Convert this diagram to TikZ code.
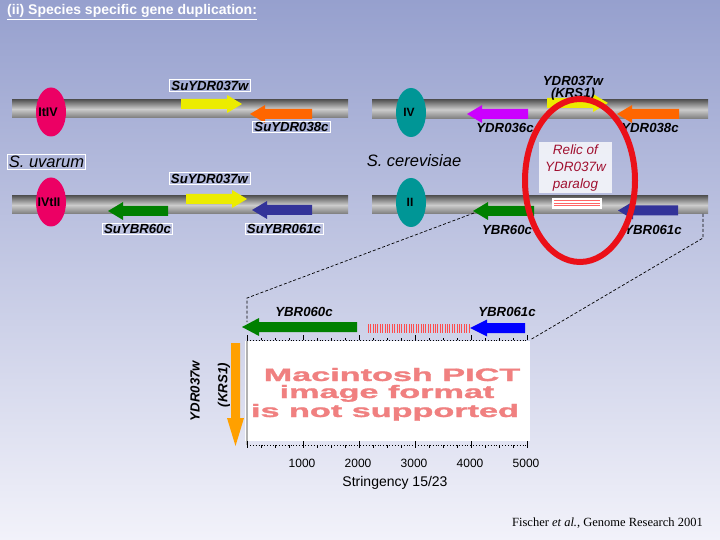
\documentclass[tikz,border=0pt]{standalone}
\usepackage{fontspec}
\usetikzlibrary{shapes.geometric}
\setmainfont{Liberation Sans}
\newfontfamily\timesf{Liberation Serif}
\newfontfamily\pictfont[FakeBold=1.2]{Liberation Sans Bold}
\definecolor{bgtop}{RGB}{150,160,206}
\definecolor{bgbot}{RGB}{242,242,250}
\definecolor{cmag}{RGB}{236,0,100}
\definecolor{cteal}{RGB}{0,150,150}
\definecolor{gyel}{RGB}{236,236,0}
\definecolor{gora}{RGB}{255,102,0}
\definecolor{ggrn}{RGB}{0,128,0}
\definecolor{gnav}{RGB}{51,51,153}
\definecolor{gvio}{RGB}{204,0,255}
\definecolor{gblu}{RGB}{0,0,255}
\definecolor{gorv}{RGB}{255,160,0}
\definecolor{relred}{RGB}{160,16,48}
\definecolor{ringred}{RGB}{235,16,24}
\definecolor{pictred}{RGB}{240,128,128}
\newcommand{\garR}[4]{\fill[#4] (#1,#3-5) -- (#2-15,#3-5) -- (#2-15,#3-9) -- (#2,#3) -- (#2-15,#3+9) -- (#2-15,#3+5) -- (#1,#3+5) -- cycle;}
\newcommand{\garL}[4]{\fill[#4] (#2,#3-5) -- (#1+15,#3-5) -- (#1+15,#3-9) -- (#1,#3) -- (#1+15,#3+9) -- (#1+15,#3+5) -- (#2,#3+5) -- cycle;}
\begin{document}
\begin{tikzpicture}[x=1pt,y=-1pt,
  gl/.style={font=\fontsize{13.2}{13}\selectfont\bfseries\itshape, inner sep=1.2pt},
  gbox/.style={gl, draw=white, line width=0.8pt, inner xsep=2pt},
  spc/.style={font=\fontsize{16.5}{18}\selectfont\itshape, inner sep=1.5pt},
  chrom/.style={top color=black!65, bottom color=black!52, middle color=black!20},
  cen/.style={ellipse, minimum width=30pt, minimum height=49pt, inner sep=0pt},
  cenlab/.style={font=\fontsize{12.5}{13}\selectfont\bfseries, inner sep=0pt},
  dashc/.style={black, dash pattern=on 3pt off 2pt, line width=0.7pt},
  pict/.style={font=\fontsize{18}{18}\pictfont, text=pictred, xscale=1.9, inner sep=0pt, anchor=base},
  axl/.style={font=\fontsize{12}{13}\selectfont, inner sep=0pt}
]
\shade[top color=bgtop, bottom color=bgbot] (0,0) rectangle (720,540);
\useasboundingbox (0,0) rectangle (720,540);

% title
\node[anchor=west, text=white, font=\fontsize{14}{15}\selectfont\bfseries, inner sep=0pt] (title) at (7,12) {\underline{(ii) Species specific gene duplication:}};

% chromosome bars
\shade[chrom] (12,100) rectangle (348,118);
\shade[chrom] (12,196) rectangle (348,214);
\shade[chrom] (372,100) rectangle (708,119);
\shade[chrom] (372,196) rectangle (708,214);

% genes S. uvarum
\garR{181}{242}{104}{gyel}
\garL{250}{312}{114}{gora}
\garR{186}{247}{199}{gyel}
\garL{108}{168}{211}{ggrn}
\garL{252}{312}{210}{gnav}
% genes S. cerevisiae
\garR{547}{608}{103}{gyel}
\garL{467}{528}{114}{gvio}
\garL{617}{679}{114}{gora}
\garL{473}{534}{211}{ggrn}
\garL{618}{678}{210.5}{gnav}

% centromeres
\node[cen, fill=cmag] (c1) at (51,112) {};
\node[cenlab] at (48,112) {ItIV};
\node[cen, fill=cmag] (c2) at (51,202) {};
\node[cenlab] at (49,202) {IVtII};
\node[cen, fill=cteal] (c3) at (411,112.5) {};
\node[cenlab, font=\fontsize{12}{12}\selectfont\bfseries] at (409,112) {IV};
\node[cen, fill=cteal] (c4) at (411,202.5) {};
\node[cenlab, font=\fontsize{12}{12}\selectfont\bfseries] at (410,202) {II};

% S. uvarum labels
\node[gbox] (l1) at (210,85.5) {SuYDR037w};
\node[gbox] (l2) at (291.5,127) {SuYDR038c};
\node[spc, draw=white, line width=0.8pt] (su) at (46.5,162) {S. uvarum};
\node[gbox] (l3) at (209.5,178.5) {SuYDR037w};
\node[gbox] (l4) at (137.5,229) {SuYBR60c};
\node[gbox] (l5) at (284,229) {SuYBR061c};

% S. cerevisiae labels
\node[gl, align=center, font=\fontsize{13.2}{12}\selectfont\bfseries\itshape] (r1) at (573,88) {YDR037w\\(KRS1)};
\node[gl] (r2) at (505,128) {YDR036c};
\node[gl] (r3) at (650,128) {YDR038c};
\node[spc] (sc) at (414,161) {S. cerevisiae};
\node[gl] (r4) at (507,230) {YBR60c};
\node[gl] (r5) at (653,230) {YBR061c};

% relic box
\fill[white, fill opacity=0.78] (539,142) rectangle (612,193);
\node[text=relred, font=\fontsize{13.5}{16.8}\selectfont\itshape, align=center, inner sep=0pt] (relic) at (575.5,168) {Relic of\\YDR037w\\paralog};
\fill[white] (552,198) rectangle (602,209);
\foreach \yy in {200.5,203,205.5} \draw[red!60, line width=0.4pt, dash pattern=on 1.5pt off 0.5pt] (554,\yy) -- (600,\yy);

% dashed zoom lines
\coordinate (dA) at (474,213);
\coordinate (dB) at (247,298);
\coordinate (dC) at (247,322);
\coordinate (dD) at (703,214);
\coordinate (dE) at (703,238);
\coordinate (dF) at (530,340);
\draw[dashc] (dA) -- (dB) -- (dC);
\draw[dashc] (dD) -- (dE) -- (dF);

% bottom panel
\node[gl] (b1) at (304,312) {YBR060c};
\node[gl] (b2) at (507,312) {YBR061c};
\fill[ggrn] (357,322) -- (259,322) -- (259,318) -- (242,327) -- (259,336) -- (259,332) -- (357,332) -- cycle;
\fill[gblu] (525,323) -- (487,323) -- (487,319.5) -- (470,328) -- (487,336.5) -- (487,333) -- (525,333) -- cycle;
\foreach \x in {368,370.4,...,470} \draw[red!70, line width=0.6pt] (\x,324) -- (\x,333);

\fill[white] (245,341) rectangle (530,441);
\draw[black!30, line width=1.2pt] (247,341) -- (247,445);
\draw[black, dotted, line width=0.9pt] (247,340) -- (527,340);
\draw[black, dotted, line width=0.9pt] (247,445) -- (527,445);
\foreach \i in {0,...,20} {
  \draw[black, line width=0.6pt] (247+\i*14,340) -- ++(0,-2.5);
  \draw[black, line width=0.6pt] (247+\i*14,445) -- ++(0,2.5);
}
\foreach \i in {0,...,5} {
  \draw[black, line width=0.8pt] (247+\i*56,340) -- ++(0,-5);
  \draw[black, line width=0.8pt] (247+\i*56,445) -- ++(0,-4);
}
\node[pict] (p1) at (392,381) {Macintosh PICT};
\node[pict] (p2) at (387,398) {image format};
\node[pict] (p3) at (385,417) {is not supported};

\node[axl] (n1) at (302,463) {1000};
\node[axl] (n2) at (358,463) {2000};
\node[axl] (n3) at (414,463) {3000};
\node[axl] (n4) at (470,463) {4000};
\node[axl] (n5) at (526,463) {5000};
\node[axl, font=\fontsize{14}{15}\selectfont] (st) at (395,483) {Stringency 15/23};

% orange vertical arrow
\fill[gorv] (231,343) -- (240,343) -- (240,418) -- (244,418) -- (235.5,446) -- (227,418) -- (231,418) -- cycle;
\node[gl, rotate=90] (v1) at (195,391) {YDR037w};
\node[gl, rotate=90] (v2) at (224,385) {(KRS1)};

% red ring
\draw[ringred, line width=6pt] (580,180.5) ellipse [x radius=55, y radius=81.5];

% footer
\node[anchor=west, inner sep=0pt, font=\timesf\fontsize{12.5}{13}\selectfont] (foot) at (512,523) {Fischer \textit{et al.}, Genome Research 2001};
\end{tikzpicture}
\end{document}
